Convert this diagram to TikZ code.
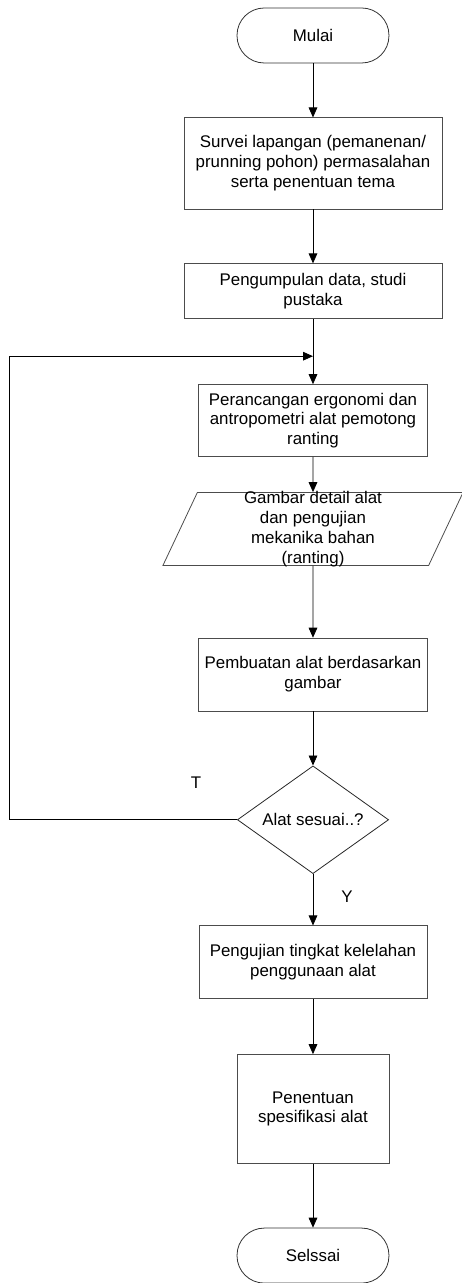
\documentclass[tikz,border=0pt]{standalone}
\usepackage{fontspec}
\setmainfont{Liberation Sans}
\usetikzlibrary{positioning, arrows.meta, shapes.geometric}

\begin{document}
\begin{tikzpicture}[
        node distance=1.43cm,
        every node/.style={font=\fontsize{12.7}{15}\selectfont},
        termbox/.style={rectangle, rounded corners=0.72cm, draw=black!80, line width=0.6pt, minimum width=4.02cm, minimum height=1.455cm, align=center},
        procbox/.style={rectangle, draw=black!70, line width=0.6pt, minimum width=6.06cm, minimum height=1.93cm, align=center, inner sep=2pt},
        iobox/.style={trapezium, trapezium left angle=63, trapezium right angle=117, trapezium stretches body, draw=black!70, line width=0.6pt, minimum width=7.94cm, minimum height=1.93cm, align=center, inner ysep=-3pt},
        decbox/.style={diamond, aspect=1.385, draw=black!85, line width=0.6pt, minimum width=4cm, minimum height=2.85cm, inner sep=0pt, align=center},
        lbl/.style={inner sep=0pt},
        arr/.style={-{Triangle[length=7.5pt, width=6.5pt]}, line width=0.6pt, black},
    ]
        \useasboundingbox (-8.281,0.939) rectangle (3.942,-33.006);

        % Start
        \node[termbox] (start) {Mulai};

        % Survey and data collection
        \node[procbox, minimum width=6.83cm, minimum height=2.41cm, below=of start] (survey) {Survei lapangan (pemanenan/\\prunning pohon) permasalahan\\serta penentuan tema};
        \node[procbox, minimum width=6.83cm, minimum height=1.455cm, below=of survey] (data) {Pengumpulan data, studi\\pustaka};

        % Design loop
        \coordinate[below=0.98cm of data] (merge);
        \coordinate (loopx) at (-8.043,0);
        \node[procbox, minimum height=1.905cm, below=1.72cm of data] (design) {Perancangan ergonomi dan\\antropometri alat pemotong\\ranting};
        \node[iobox, below=0.93cm of design] (drawing) {Gambar detail alat\\dan pengujian\\mekanika bahan\\(ranting)};
        \node[procbox, below=1.9cm of drawing] (build) {Pembuatan alat berdasarkan\\gambar};

        % Decision
        \node[decbox, below=1.43cm of build] (check) {Alat sesuai..?};
        \node[lbl] (tlabel) at ([shift={(-1.085cm,0.98cm)}]check.west) {T};
        \node[lbl] (ylabel) at ([shift={(0.9cm,-0.61cm)}]check.south) {Y};

        % Testing and result
        \node[procbox, minimum width=6.03cm, below=1.36cm of check] (fatigue) {Pengujian tingkat kelelahan\\penggunaan alat};
        \node[procbox, minimum width=4.02cm, minimum height=2.88cm, below=1.455cm of fatigue] (spec) {Penentuan\\spesifikasi alat};
        \node[termbox, below=1.69cm of spec] (finish) {Selssai};

        % Arrows
        \draw[arr] (start) -- (survey);
        \draw[arr] (survey) -- (data);
        \draw[arr] (data) -- (design);
        \draw[arr] (design) -- (drawing);
        \draw[arr] (drawing) -- (build);
        \draw[arr] (build) -- (check);
        \draw[arr] (check) -- (fatigue);
        \draw[arr] (fatigue) -- (spec);
        \draw[arr] (spec) -- (finish);

        % Feedback loop
        \draw[arr] (check.west) -- (check.west -| loopx) |- (merge);
    \end{tikzpicture}
\end{document}
